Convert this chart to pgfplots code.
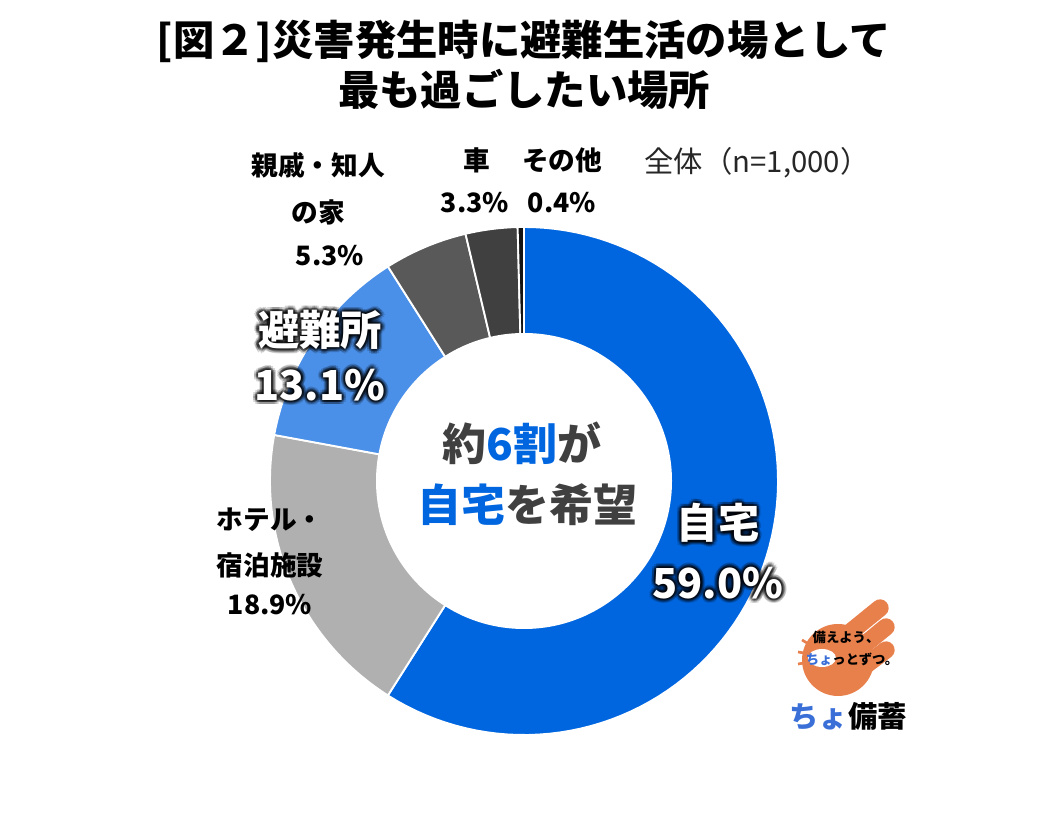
\documentclass[border=0pt]{standalone}
\usepackage{fontspec}
\setmainfont{Noto Sans CJK JP}
\usepackage{pgfplots}
\usepackage{pgfplotstable}
\pgfplotsset{compat=1.18}

\definecolor{cHome}{RGB}{0,102,224}
\definecolor{cHotel}{RGB}{176,176,176}
\definecolor{cShelter}{RGB}{74,143,232}
\definecolor{cRel}{RGB}{89,89,89}
\definecolor{cCar}{RGB}{64,64,64}
\definecolor{cOther}{RGB}{20,20,20}
\definecolor{cText}{RGB}{64,64,64}
\definecolor{cOrange}{RGB}{232,128,76}
\definecolor{cLogoBlue}{RGB}{58,111,216}

\pgfplotstableread{
label value color
自宅 59.0 cHome
ホテル・宿泊施設 18.9 cHotel
避難所 13.1 cShelter
親戚・知人の家 5.3 cRel
車 3.3 cCar
その他 0.4 cOther
}\datatable

\newcommand{\glow}[2]{%
  \foreach \a in {0,30,...,330}{
    \node[text=black, opacity=0.16, inner sep=0pt] at ([shift={(\a:3.4pt)}]#1) {#2};
    \node[text=black, opacity=0.22, inner sep=0pt] at ([shift={(\a:1.9pt)}]#1) {#2};
  }
  \node[text=white, inner sep=0pt] at (#1) {#2};
}

\begin{document}
\begin{tikzpicture}
\useasboundingbox (0,0) rectangle (786.75pt,622.5pt);
\begin{axis}[at={(0,0)}, anchor=south west, width=786.75pt, height=622.5pt,
  scale only axis, xmin=0, xmax=1049, ymin=0, ymax=830, hide axis, clip=false]
\xdef\s{90}
\pgfplotsforeachungrouped \i in {0,...,5}{%
  \pgfplotstablegetelem{\i}{value}\of\datatable \let\v\pgfplotsretval
  \pgfplotstablegetelem{\i}{color}\of\datatable \let\c\pgfplotsretval
  \pgfmathsetmacro\e{\s - 3.6*\v}%
  \edef\temp{\noexpand\addplot[fill=\c, draw=white, line width=1.4pt, line join=round,
     domain=\e:\s, samples=90, variable=\noexpand\t]
     ({524+254*cos(\noexpand\t)},{349+254*sin(\noexpand\t)}) -- (axis cs:524,349) -- cycle;}%
  \temp
  \xdef\s{\e}%
}
\end{axis}

\begin{scope}[x=0.75pt, y=0.75pt]
  % hole
  \fill[white] (524,349) circle (148);

  % title
  \node[font=\fontsize{31}{37}\selectfont\bfseries, align=center] at (524,765)
    {[図２]災害発生時に避難生活の場として\\最も過ごしたい場所};

  % n
  \node[font=\fontsize{22}{26}\selectfont, text=black!85] at (757,667) {全体（n=1,000）};

  % small labels
  \begin{scope}[font=\fontsize{20}{24}\selectfont\bfseries]
    \node at (477,670) {車};
    \node at (562,670) {その他};
    \node at (475,627) {3.3\%};
    \node at (562,627) {0.4\%};
    \node at (318,665) {親戚・知人};
    \node at (318,618) {の家};
    \node at (330,574) {5.3\%};
    \node at (270,310) {ホテル・};
    \node at (270,265) {宿泊施設};
    \node at (270,225) {18.9\%};
  \end{scope}

  % glowing labels
  \begin{scope}[font=\fontsize{31}{36}\selectfont\bfseries]
    \glow{320,500}{避難所}
    \glow{320,445}{13.1\%}
    \glow{718,307}{自宅}
    \glow{718,247}{59.0\%}
  \end{scope}

  % center text
  \begin{scope}[font=\fontsize{33}{38}\selectfont\bfseries]
    \node[text=cText] at (522,387) {約\textcolor{cHome}{6割}が};
    \node[text=cText] at (527,325) {\textcolor{cHome}{自宅}を希望};
  \end{scope}

  % logo
  \fill[cOrange] (838,170) circle (36);
  \draw[cOrange, line width=13pt, line cap=round] (848,196) -- (880,222);
  \draw[cOrange, line width=13pt, line cap=round] (858,180) -- (886,203);
  \draw[cOrange, line width=13pt, line cap=round] (862,162) -- (886,180);
  \fill[white] (822,172) ellipse (14 and 9);
  \draw[cOrange, line width=2pt] (798,178) -- (810,176) (798,166) -- (810,168) (802,190) -- (812,184);
  \node[font=\fontsize{10}{12}\selectfont\bfseries] at (846,193) {備えよう、};
  \node[font=\fontsize{10}{12}\selectfont\bfseries] at (852,171) {\textcolor{cLogoBlue}{ちょ}っとずつ。};
  \node[font=\fontsize{22}{26}\selectfont\bfseries] at (848,114) {\textcolor{cLogoBlue}{ちょ}備蓄};
\end{scope}
\end{tikzpicture}
\end{document}
